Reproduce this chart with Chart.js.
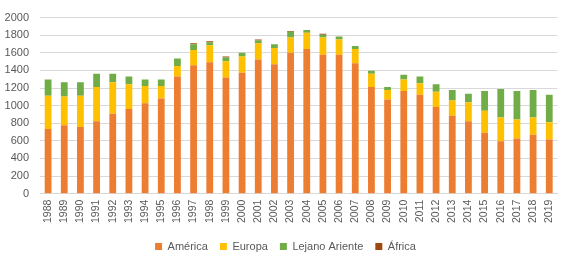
<!DOCTYPE html>
<html><head><meta charset="utf-8">
<script src="https://cdn.jsdelivr.net/npm/chart.js@4"></script>
<style>html,body{margin:0;padding:0;background:#fff}#wrap{width:568px;height:263px}</style>
</head><body><div id="wrap"><canvas id="c" width="568" height="263"></canvas></div>
<script>
const years = ["1988","1989","1990","1991","1992","1993","1994","1995","1996","1997","1998","1999","2000","2001","2002","2003","2004","2005","2006","2007","2008","2009","2010","2011","2012","2013","2014","2015","2016","2017","2018","2019"];
const america = [735,778,757,822,908,962,1027,1081,1330,1459,1492,1319,1373,1524,1470,1600,1643,1578,1578,1481,1211,1070,1167,1124,984,886,822,692,595,627,670,616];
const europa = [378,325,356,389,357,281,195,141,119,173,194,184,184,184,184,173,184,195,173,162,151,108,130,130,173,173,216,249,270,216,195,195];
const lejano = [184,162,152,151,97,87,75,75,86,65,33,43,43,32,43,65,32,32,33,33,33,33,54,76,86,119,97,226,324,324,313,313];
const africa = [0,0,0,0,0,0,0,0,0,11,11,11,0,11,0,11,0,11,0,0,0,0,0,0,0,0,0,0,0,0,0,0];
const yTicks = [0,200,400,600,800,1000,1200,1400,1600,1800,2000];

const legendShift = {
  id: 'legendShift',
  afterLayout(chart) { if (chart.legend) { chart.legend.left += 6; chart.legend.right += 6; } }
};

const mk = (label, data, color) => ({label, data, backgroundColor: color, borderWidth: 0, barPercentage: 0.42, categoryPercentage: 1});
new Chart(document.getElementById('c'), {
  type: 'bar',
  data: { labels: years, datasets: [
    mk('América', america, '#ED7D31'),
    mk('Europa', europa, '#FFC000'),
    mk('Lejano Ariente', lejano, '#70AD47'),
    mk('África', africa, '#9E480E')
  ]},
  plugins: [legendShift],
  options: {
    responsive: false, animation: false,
    layout: { padding: { left: 0, right: 9, top: 3, bottom: 1 } },
    plugins: {
      tooltip: { enabled: false },
      legend: { position: 'bottom',
        labels: { boxWidth: 7, boxHeight: 7, padding: 12, color: '#595959',
          font: { family: 'Liberation Sans', size: 11 } } }
    },
    scales: {
      x: { stacked: true,
        grid: { display: false, drawTicks: false },
        border: { color: '#d9d9d9' },
        ticks: { autoSkip: false, minRotation: 90, maxRotation: 90, color: '#595959', padding: 6,
          font: { family: 'Liberation Sans', size: 10.5 } } },
      y: { stacked: true, min: 0, max: 2000,
        afterBuildTicks: (s) => { s.ticks = yTicks.map(v => ({value: v})); },
        afterFit: (s) => { s.width = 40; },
        grid: { color: '#d9d9d9', drawTicks: false },
        border: { display: false },
        ticks: { color: '#595959', padding: 11, callback: (v) => String(v),
          font: { family: 'Liberation Sans', size: 11 } } }
    }
  }
});
</script></body></html>
